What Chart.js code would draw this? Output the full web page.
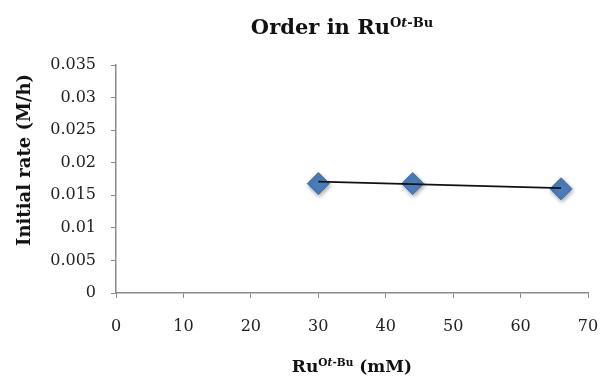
<!DOCTYPE html>
<html>
<head>
<meta charset="utf-8">
<script src="https://cdn.jsdelivr.net/npm/chart.js@4/dist/chart.umd.min.js"></script>
<style>
  html, body { margin: 0; padding: 0; background: #fff; }
  #wrap { position: relative; width: 600px; height: 377px; }
  #chart { position: absolute; left: 0; top: 0; }
  .lbl { position: absolute; font-family: "DejaVu Serif", serif; font-weight: bold; color: #111; white-space: nowrap; }
  .lbl sup { font-size: 0.62em; vertical-align: 0.55em; line-height: 0; }
  #title { left: 342px; top: 16px; font-size: 21px; line-height: 21px; transform: translateX(-50%); }
  #xtitle { left: 352px; top: 358px; font-size: 17px; line-height: 17px; transform: translateX(-50%); }
  #ytitle { left: 24px; top: 160px; font-size: 18px; line-height: 18px; transform: translate(-50%, -50%) rotate(-90deg); }
</style>
</head>
<body>
<div id="wrap">
  <canvas id="chart" width="600" height="377"></canvas>
  <div id="title" class="lbl">Order in Ru<sup>O<i>t</i>-Bu</sup></div>
  <div id="ytitle" class="lbl">Initial rate (M/h)</div>
  <div id="xtitle" class="lbl">Ru<sup>O<i>t</i>-Bu</sup> (mM)</div>
</div>
<script>
// measured points
const ruConc = [30, 44, 66];
const initialRate = [0.0168, 0.0168, 0.0160];

// linear trendline ends
const trendX = [30, 66];
const trendY = [0.0171, 0.0161];

const xTickLabels = ['0', '10', '20', '30', '40', '50', '60', '70'];
const yTickLabels = ['0', '0.005', '0.01', '0.015', '0.02', '0.025', '0.03', '0.035'];

const pointData = ruConc.map((x, i) => ({ x: x, y: initialRate[i] }));
const trendData = trendX.map((x, i) => ({ x: x, y: trendY[i] }));

// soft drop shadow under the diamonds
const shadowPlugin = {
    id: 'shadow',
    beforeDatasetDraw(chart, args) {
        if (args.index === 1) {
            chart.ctx.save();
            chart.ctx.shadowColor = 'rgba(0,0,0,0.35)';
            chart.ctx.shadowBlur = 4;
            chart.ctx.shadowOffsetX = 1;
            chart.ctx.shadowOffsetY = 2;
        }
    },
    afterDatasetDraw(chart, args) {
        if (args.index === 1) chart.ctx.restore();
    }
};

const tickFont = { family: '"DejaVu Serif", serif', size: 16 };

var ctx = document.getElementById('chart');
var chart = new Chart(ctx, {
    type: 'scatter',
    data: {
        datasets: [
            {
                label: 'Trend',
                data: trendData,
                showLine: true,
                borderColor: '#111',
                borderWidth: 1.8,
                pointRadius: 0,
                fill: false
            },
            {
                label: 'Rate',
                data: pointData,
                pointStyle: 'rectRot',
                pointRadius: 11,
                pointHoverRadius: 11,
                backgroundColor: '#4a7ebb',
                borderColor: '#3d6ca6',
                borderWidth: 1
            }
        ]
    },
    options: {
        responsive: false,
        animation: false,
        events: [],
        layout: { padding: { left: 0, right: 11, top: 65, bottom: 0 } },
        plugins: { legend: { display: false }, tooltip: { enabled: false } },
        scales: {
            x: {
                type: 'linear',
                min: 0,
                max: 70,
                afterFit: function(scale) {
                    scale.height = 84;
                    scale.paddingLeft = 0;
                    scale.paddingRight = 0;
                },
                ticks: {
                    stepSize: 10,
                    padding: 19,
                    color: '#222',
                    font: tickFont,
                    callback: function(value, index) { return xTickLabels[index]; }
                },
                grid: { drawOnChartArea: false, drawTicks: true, tickLength: 5, color: '#8a8a8a' },
                border: { color: '#8a8a8a', width: 1.5 }
            },
            y: {
                min: 0,
                max: 0.035,
                afterFit: function(scale) {
                    scale.width = 116;
                    scale.paddingTop = 0;
                    scale.paddingBottom = 0;
                },
                ticks: {
                    stepSize: 0.005,
                    padding: 15,
                    color: '#222',
                    font: tickFont,
                    callback: function(value, index) { return yTickLabels[index]; }
                },
                grid: { drawOnChartArea: false, drawTicks: true, tickLength: 5, color: '#8a8a8a' },
                border: { color: '#8a8a8a', width: 1.5 }
            }
        }
    },
    plugins: [shadowPlugin]
});
</script>
</body>
</html>
